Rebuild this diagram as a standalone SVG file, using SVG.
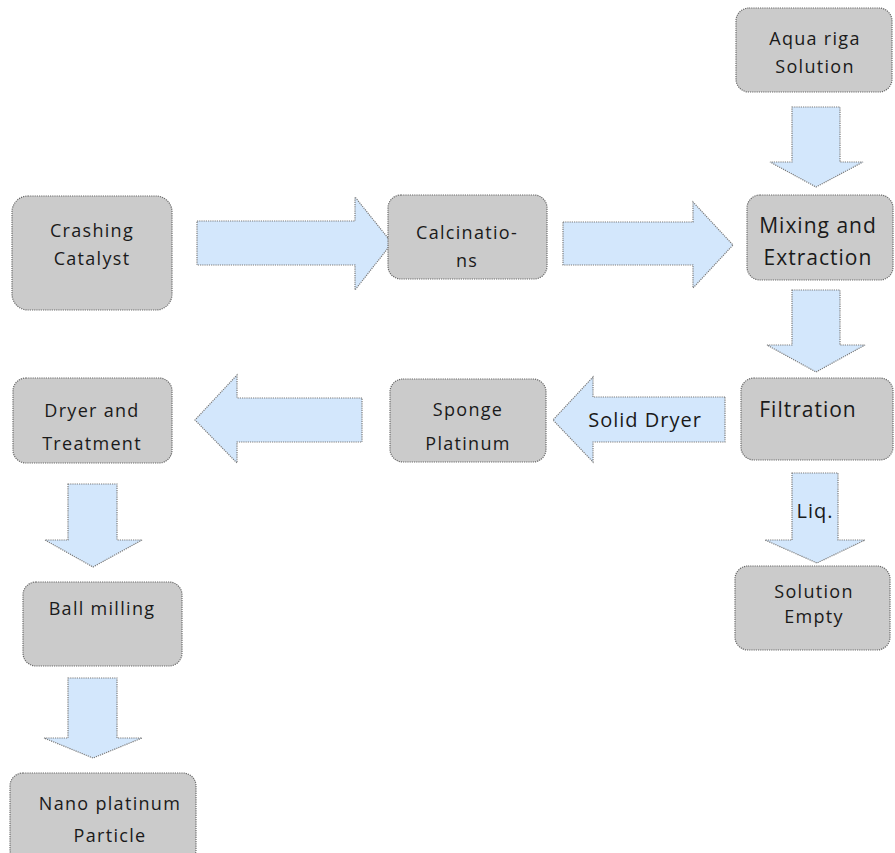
<svg xmlns="http://www.w3.org/2000/svg" width="895" height="853" viewBox="0 0 895 853">
<style>
.box{fill:#cbcbcb;stroke:#6a6a6a;stroke-width:1.2;stroke-dasharray:1.2 1}
.arr{fill:#d3e7fc;stroke:#7a7a7a;stroke-width:1.2;stroke-dasharray:1.2 1}
text{font-family:"Open Sans","Liberation Sans",sans-serif;fill:#1a1a1a;text-anchor:middle}
.t16{font-size:18px;letter-spacing:1.3px}
.t18{font-size:21px;letter-spacing:1px}
.t20{font-size:20px;letter-spacing:1px}
</style>
<rect width="895" height="853" fill="#ffffff"/>
<g id="connectors">
<polygon class="arr" points="197,221 355,221 355,197 392,243 355,290 355,265 197,265"/>
<polygon class="arr" points="563,222 693,222 693,202 733,245 693,288 693,265 563,265"/>
<polygon class="arr" points="792,107 840,107 840,162 863,162 816,187 770,162 792,162"/>
<polygon class="arr" points="792,290 840,290 840,345 865,345 816,372 767,345 792,345"/>
<polygon class="arr" points="725,397 593,397 593,377 553,420 593,462 593,442 725,442"/>
<polygon class="arr" points="362,398 237,398 237,375 195,420 237,463 237,442 362,442"/>
<polygon class="arr" points="792,473 838,473 838,540 865,540 817,563 765,540 792,540"/>
<polygon class="arr" points="68,484 117,484 117,540 142,540 93,567 45,540 68,540"/>
<polygon class="arr" points="68,678 117,678 117,738 142,738 93,758 44,738 68,738"/>
<text class="t20" x="645" y="427">Solid Dryer</text>
<text class="t20" x="815" y="518">Liq.</text>
</g>
<g id="crashing">
<rect class="box" x="12" y="196" width="160" height="114" rx="16"/>
<text class="t16" x="92" y="237">Crashing</text>
<text class="t16" x="92" y="265">Catalyst</text>
</g>
<g id="calcinations">
<rect class="box" x="388" y="195" width="159" height="84" rx="13"/>
<text class="t16" x="467" y="239">Calcinatio-</text>
<text class="t16" x="467" y="267">ns</text>
</g>
<g id="aqua">
<rect class="box" x="736" y="8" width="156" height="84" rx="13"/>
<text class="t16" x="815" y="45">Aqua riga</text>
<text class="t16" x="815" y="73">Solution</text>
</g>
<g id="mixing">
<rect class="box" x="747" y="195" width="146" height="85" rx="13"/>
<text class="t18" x="818" y="233">Mixing and</text>
<text class="t18" x="818" y="265">Extraction</text>
</g>
<g id="filtration">
<rect class="box" x="741" y="378" width="152" height="82" rx="13"/>
<text class="t18" x="808" y="417">Filtration</text>
</g>
<g id="sponge">
<rect class="box" x="390" y="379" width="156" height="83" rx="13"/>
<text class="t16" x="468" y="416">Sponge</text>
<text class="t16" x="468" y="450">Platinum</text>
</g>
<g id="dryer">
<rect class="box" x="13" y="378" width="159" height="85" rx="13"/>
<text class="t16" x="92" y="417">Dryer and</text>
<text class="t16" x="92" y="450">Treatment</text>
</g>
<g id="solution">
<rect class="box" x="735" y="566" width="155" height="84" rx="13"/>
<text class="t16" x="814" y="598">Solution</text>
<text class="t16" x="814" y="623">Empty</text>
</g>
<g id="ballmilling">
<rect class="box" x="23" y="582" width="159" height="84" rx="13"/>
<text class="t16" x="102" y="615">Ball milling</text>
</g>
<g id="nano">
<rect class="box" x="10" y="773" width="186" height="90" rx="13"/>
<text class="t16" x="110" y="810">Nano platinum</text>
<text class="t16" x="110" y="842">Particle</text>
</g>
</svg>
